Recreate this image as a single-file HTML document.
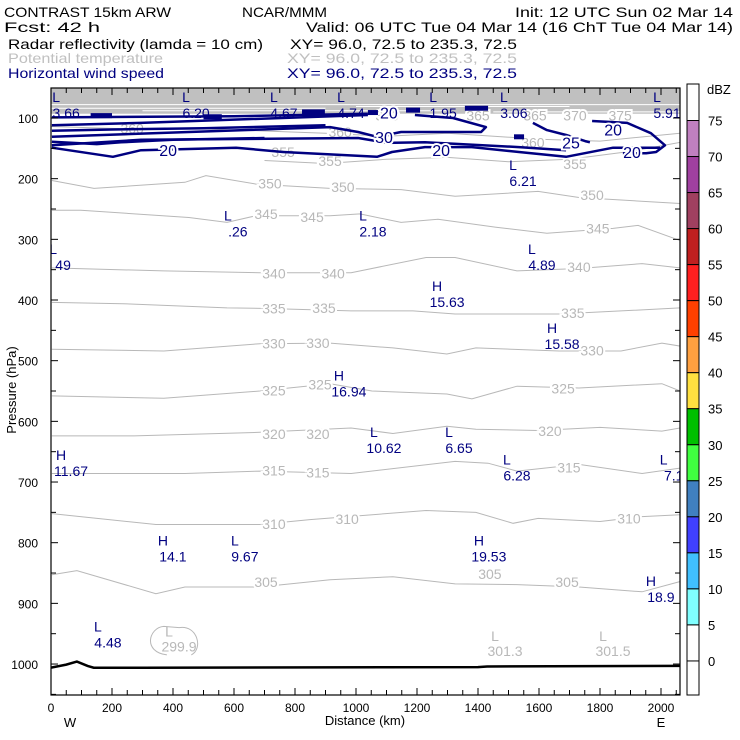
<!DOCTYPE html>
<html><head><meta charset="utf-8"><style>
body{margin:0;background:#fff}
svg{display:block;font-family:"Liberation Sans",sans-serif}
</style></head><body>
<svg id="chart" width="740" height="740" viewBox="0 0 740 740" xmlns="http://www.w3.org/2000/svg">
<rect width="740" height="740" fill="#fff"/>
<g font-size="14">
<text x="4" y="17" textLength="167" lengthAdjust="spacingAndGlyphs">CONTRAST 15km ARW</text>
<text x="4" y="32" textLength="96" lengthAdjust="spacingAndGlyphs">Fcst:    42 h</text>
<text x="242" y="17" textLength="85" lengthAdjust="spacingAndGlyphs">NCAR/MMM</text>
<text x="515" y="17" textLength="218" lengthAdjust="spacingAndGlyphs">Init: 12 UTC Sun 02 Mar 14</text>
<text x="306" y="32" textLength="427" lengthAdjust="spacingAndGlyphs">Valid: 06 UTC Tue 04 Mar 14 (16 ChT Tue 04 Mar 14)</text>
<text x="8" y="49" textLength="255" lengthAdjust="spacingAndGlyphs">Radar reflectivity (lamda = 10 cm)</text>
<text x="290" y="49" textLength="227" lengthAdjust="spacingAndGlyphs">XY=  96.0, 72.5 to 235.3, 72.5</text>
<text x="8" y="63" fill="#c0c0c0" textLength="155" lengthAdjust="spacingAndGlyphs">Potential temperature</text>
<text x="287" y="63" fill="#c0c0c0" textLength="230" lengthAdjust="spacingAndGlyphs">XY=  96.0, 72.5 to 235.3, 72.5</text>
<text x="8" y="78" fill="#000080" textLength="156" lengthAdjust="spacingAndGlyphs">Horizontal wind speed</text>
<text x="287" y="78" fill="#000080" textLength="230" lengthAdjust="spacingAndGlyphs">XY=  96.0, 72.5 to 235.3, 72.5</text>
</g>
<g id="plot"></g>
<g id="cbar"></g>
</svg>
<script>
// axis scales
const X0=51, XK=0.305, Y100=118, YK=0.6067;
function xD(d){return X0+d*XK;}
function yP(p){return Y100+(p-100)*YK;}
const NS="http://www.w3.org/2000/svg";
const plot=document.getElementById('plot');
const cbar=document.getElementById('cbar');
function mk(tag,attrs,parent){const e=document.createElementNS(NS,tag);for(const k in attrs)e.setAttribute(k,attrs[k]);(parent||plot).appendChild(e);return e;}

// theta contours (distance km, pressure hPa)
const thetaLevels=[360,355,350,345,340,335,330,325,320,315,310,305];
const thetaD=[
[0,250,500,900,1100,1300,1600,1800,2063],
[700,900,1100,1300,1500,1700,1900,2063],
[3,141,439,508,672,915,1148,1325,1597,1731,2063],
[3,98,452,577,672,915,1013,1148,1269,1459,1626,1843,1925,2063],
[3,370,685,984,1230,1325,1528,1731,1938,2063],
[3,236,577,711,984,1187,1325,1666,1869,2063],
[3,370,685,915,1121,1298,1393,1666,1869,2003,2063],
[3,370,685,915,1052,1298,1380,1528,1731,2003,2063],
[3,272,685,984,1121,1298,1393,1597,1800,2003,2063],
[3,439,685,984,1325,1433,1528,1731,1938,2063],
[3,344,685,849,1230,1393,1515,1597,1800,1938,2063],
[3,85,344,439,685,915,1121,1325,1528,1731,1938,2063]];
const thetaP=[
[114,118,118,125,130,125,135,138,125],
[170,175,168,165,172,168,155,140],
[203,216,206,195,209,216,218,229,221,231,241],
[252,252,264,272,261,261,258,272,267,280,290,282,277,302],
[347,352,355,355,330,330,352,348,340,347],
[404,406,413,414,418,418,423,423,418,413],
[481,484,472,471,479,489,479,484,484,471,476],
[558,562,550,538,550,555,563,542,545,538,550],
[624,624,618,611,620,608,613,615,610,616,611],
[686,686,682,686,666,669,682,671,686,677],
[752,770,770,762,747,750,768,760,765,757,754],
[853,846,884,873,873,861,856,868,869,873,881,864]];
const thetaLabelText=["360","360","360","355","355","350","350","350","355","345","345","345","340","340","340","335","335","335","330","330","330","325","325","325","320","320","320","315","315","315","310","310","310","305","305","305","370","365","365","370","375"];
const thetaLabelD=[266,948,1580,761,915,718,957,1774,1718,705,856,1793,731,925,1731,731,895,1711,731,875,1774,731,882,1679,731,875,1636,731,875,1698,731,971,1895,705,1439,1692,1102,1400,1587,1718,1866];
const thetaLabelP=[117,123,140,156,171,208,214,227,176,258,263,282,356,356,346,414,413,421,472,471,483,549,539,546,621,621,616,681,684,676,769,761,760,865,852,865,96,96,96,96,96];

// surface pressure
const sfcD=[0,50,85,120,140,300,1400,1430,2063];
const sfcP=[1006,1001,996,1003,1006,1006,1005,1004,1003];

// wind speed contours
const windD=[
[3,600,1039],
[3,295,1039],
[3,452,915,1007,1069,1148,1410,1426,1318,1193],
[3,295,1007,1102,1226,1534,1689],
[3,203,295,607,761,1069,1118,1226,1380,1534,1689,1843,1997],
[1580,1626,1689,1751,1767],
[1774,1889,1967,2013,1984,1951,1875],
[3,200,500,900],
[3,150,230,400,700]];
const windP=[
[99,97,93],
[112,108,95],
[131,123,115,123,131,123,123,115,100,95],
[145,136,133,141,140,148,153],
[149,164,153,149,156,164,156,148,148,156,164,149,149],
[108,120,128,138,140],
[105,108,125,145,156,158,158],
[121,119,117,112],
[139,143,140,136,133]];
const blobD0=[823,1039,1164,1357,1518,500,130];
const blobD1=[898,1072,1210,1433,1551,560,200];
const blobP=[90,91,87,84,131,98,96];
const windLabelText=["20","30","20","20","25","20","20"];
const windLabelD=[384,1092,1279,1108,1705,1843,1905];
const windLabelP=[153,131,153,91,140,119,156];

// extrema
const extKind=["L","L","L","L","L","L","L","L","L","L","L","L","H","H","H","L","L","H","L","L","H","L","H","H","L"];
const extText=["3.66","6.20","4.67","4.74","1.95","3.06","5.91","6.21",".26","2.18","49","4.89","15.63","15.58","16.94","10.62","6.65","11.67","6.28","7.1","14.1","9.67","19.53","18.9","4.48"];
const extD=[30,456,744,964,1266,1498,2000,1528,593,1036,20,1590,1279,1656,957,1072,1318,46,1508,2022,380,616,1416,1980,167];
const extP=[74,74,74,74,74,74,74,186,269,269,324,324,385,454,533,626,626,664,671,671,805,805,805,871,946];
const thExtText=["299.9","301.3","301.5"];
const thExtD=[400,1469,1823];
const thExtP=[955,962,962];

// ticks
const pTicks=[100,200,300,400,500,600,700,800,900,1000];
const dTicks=[0,200,400,600,800,1000,1200,1400,1600,1800,2000];

// color bar
const dbzLevels=[75,70,65,60,55,50,45,40,35,30,25,20,15,10,5,0];
const dbzColors=["#c080c0","#a040a0","#a04060","#c02020","#ff2020","#ff4000","#ffa040","#ffe040","#00c000","#40ff40","#4080c0","#4040ff","#40c0ff","#80ffff","#ffffff"];

const PT=88,PB=695,PL=51,PR=680;
function pts(ds,ps){return ds.map((d,i)=>xD(d).toFixed(1)+","+yP(ps[i]).toFixed(1)).join(" ");}

mk('clipPath',{id:'clip'}).appendChild(Object.assign(document.createElementNS(NS,'rect'),{}));
const cr=document.querySelector('#clip rect');cr.setAttribute('x',PL);cr.setAttribute('y',PT);cr.setAttribute('width',PR-PL);cr.setAttribute('height',PB-PT);

const inner=mk('g',{'clip-path':'url(#clip)'});



// gray band near top
const band=mk('rect',{x:PL,y:PT,width:PR-PL,height:yP(93)-PT,fill:'#c0c0c0'},inner);


[[0,2063,78],[0,900,84],[300,1300,88],[1450,2063,90],[1000,1700,81]].forEach(s=>{
 const l=mk('line',{x1:xD(s[0]),x2:xD(s[1]),y1:yP(s[2]),y2:yP(s[2]),stroke:'#fff','stroke-width':1},inner);
 
 
});

// theta contours
thetaLevels.forEach((lv,i)=>{
 const pl=mk('polyline',{points:pts(thetaD[i],thetaP[i]),fill:'none',stroke:'#b8b8b8','stroke-width':1},inner);
 
 
});
// closed 299.9 contour
const cl=mk('path',{d:`M${xD(380)},${yP(985)} C${xD(300)},${yP(980)} ${xD(320)},${yP(940)} ${xD(370)},${yP(938)} L${xD(420)},${yP(940)} C${xD(480)},${yP(935)} ${xD(500)},${yP(975)} ${xD(460)},${yP(985)}`,fill:'none',stroke:'#b8b8b8','stroke-width':1},inner);



thetaLabelText.forEach((t,i)=>{
 const tx=mk('text',{x:xD(thetaLabelD[i]),y:yP(thetaLabelP[i])+5,'text-anchor':'middle','font-size':14,fill:'#b8b8b8',stroke:'#fff','stroke-width':4,'paint-order':'stroke'},inner);
 tx.textContent=t;
 
 
});

// wind contours
windD.forEach((ds,i)=>{
 const pl=mk('polyline',{points:pts(ds,windP[i]),fill:'none',stroke:'#000080','stroke-width':2.5,'stroke-linejoin':'round'},inner);
 
 
});
blobP.forEach((p,i)=>{
 const l=mk('line',{x1:xD(blobD0[i]),x2:xD(blobD1[i]),y1:yP(p),y2:yP(p),stroke:'#000080','stroke-width':5},inner);
 
 
});
windLabelText.forEach((t,i)=>{
 const tx=mk('text',{x:xD(windLabelD[i]),y:yP(windLabelP[i])+6,'text-anchor':'middle','font-size':16,fill:'#000080',stroke:'#fff','stroke-width':4,'paint-order':'stroke'},inner);
 tx.textContent=t;
 
 
});

// extrema labels
extKind.forEach((k,i)=>{
 const x=xD(extD[i]),y=yP(extP[i]);
 const a=mk('text',{x:x-4,y:y,'text-anchor':'middle','font-size':14,fill:'#000080'},inner);
 a.textContent=k;
 
 
 const b=mk('text',{x:x+6,y:y+16,'text-anchor':'middle','font-size':14,fill:'#000080'},inner);
 b.textContent=extText[i];
 
 
});
thExtText.forEach((t,i)=>{
 const x=xD(thExtD[i]),y=yP(thExtP[i]);
 const a=mk('text',{x:x-4,y:y,'text-anchor':'middle','font-size':14,fill:'#b8b8b8'},inner);
 a.textContent='L';
 
 
 const b=mk('text',{x:x+6,y:y+15,'text-anchor':'middle','font-size':14,fill:'#b8b8b8'},inner);
 b.textContent=t;
 
 
});

// surface line
const sf=mk('polyline',{points:pts(sfcD,sfcP),fill:'none',stroke:'#000','stroke-width':2.5},inner);



// frame
const fr=mk('rect',{x:PL,y:PT,width:PR-PL,height:PB-PT,fill:'none',stroke:'#000','stroke-width':1.2});



// ticks
for(let p=100;p<=1050;p+=50){
 const y=yP(p);
 if(y<PT||y>PB)continue;
 const len=p%100===0?7:5;
 const l1=mk('line',{x1:PL,x2:PL+len,y1:y,y2:y,stroke:'#000'});
 
 
 const l2=mk('line',{x1:PR,x2:PR-len,y1:y,y2:y,stroke:'#000'});
 
 
}
pTicks.forEach(p=>{
 const t=mk('text',{x:38,y:yP(p)+5,'text-anchor':'end','font-size':12});
 t.textContent=p;
 
 
});
for(let d=0;d<=2063;d+=50){
 const x=xD(d);
 const len=d%200===0?7:5;
 const l1=mk('line',{x1:x,x2:x,y1:PB,y2:PB-len,stroke:'#000'});
 
 
 const l2=mk('line',{x1:x,x2:x,y1:PT,y2:PT+len,stroke:'#000'});
 
 
}
dTicks.forEach(d=>{
 const t=mk('text',{x:xD(d),y:712,'text-anchor':'middle','font-size':12});
 t.textContent=d;
 
 
});
const xt=mk('text',{x:365,y:725,'text-anchor':'middle','font-size':13});xt.textContent='Distance (km)';


const w=mk('text',{x:70,y:727,'text-anchor':'middle','font-size':13});w.textContent='W';


const e=mk('text',{x:661,y:727,'text-anchor':'middle','font-size':13});e.textContent='E';


const yt=mk('text',{x:0,y:0,'text-anchor':'middle','font-size':13,transform:'translate(16,390) rotate(-90)'});yt.textContent='Pressure (hPa)';



// colorbar
const CB0=120.5,CBS=36.03,CX=687,CW=12,CTOP=84,CBOT=695;
function yC(v){return CB0+(75-v)/5*CBS;}
const cbg=mk('rect',{x:CX,y:CTOP,width:CW,height:CBOT-CTOP,fill:'#fff',stroke:'#000'},cbar);


dbzColors.forEach((c,i)=>{
 const r=mk('rect',{x:CX,y:yC(dbzLevels[i]),width:CW,height:yC(dbzLevels[i+1])-yC(dbzLevels[i]),fill:c,stroke:'#000','stroke-width':1},cbar);
 
 
});
dbzLevels.forEach(v=>{
 const t=mk('text',{x:708,y:yC(v)+5,'font-size':13},cbar);
 t.textContent=v;
 
 
});
const du=mk('text',{x:707,y:94,'font-size':13},cbar);du.textContent='dBZ';


</script>
</body></html>
